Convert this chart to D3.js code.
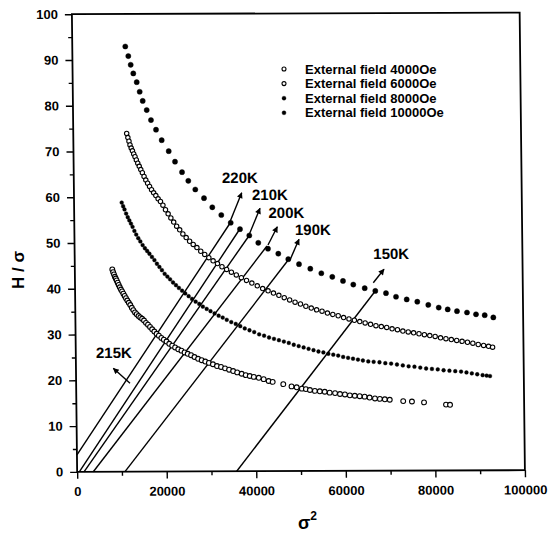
<!DOCTYPE html>
<html><head><meta charset="utf-8">
<script src="https://cdn.jsdelivr.net/npm/d3@7"></script>
<style>body{margin:0;background:#fff}svg{display:block}</style>
</head><body><svg id="c" width="550" height="534"></svg>
<script>
// ---------- data ----------
const xTicks = [0, 20000, 40000, 60000, 80000, 100000];
const xMinor = [10000, 30000, 50000, 70000, 90000];
const yTicks = [0, 10, 20, 30, 40, 50, 60, 70, 80, 90, 100];
const yMinor = [5, 15, 25, 35, 45, 55, 65, 75, 85, 95];
const fieldLabels = ["External field 4000Oe", "External field 6000Oe", "External field 8000Oe", "External field 10000Oe"];

const x4000 = [8370,8550,8740,8930,9120,9320,9540,9760,10000,10250,10500,10780,11060,11350,11650,11970,12300,12630,12960,13330,13710,14100,14500,14900,15320,15750,16200,16650,17120,17600,18100,18600,19150,19700,20300,20900,21550,22200,22900,23600,24300,25000,25750,26500,27300,28100,28900,29700,30600,31500,32400,33300,34200,35100,36000,37000,37900,38800,39700,40800,41900,43000,43900,46260,48100,49250,50400,51300,52200,53300,54400,55500,56600,57800,58900,60000,61100,62200,63300,64400,65500,66700,67800,68900,70000,73000,74950,77650,82550,83450];
const y4000 = [44.2,43.6,43.1,42.6,42.2,41.8,41.3,40.8,40.3,39.8,39.4,38.9,38.4,37.9,37.4,36.9,36.4,35.8,35.3,34.8,34.4,34.0,33.7,33.4,33.0,32.5,32.1,31.6,31.1,30.6,30.1,29.7,29.2,28.8,28.4,27.9,27.5,27.1,26.7,26.4,26.0,25.7,25.4,25.0,24.6,24.3,24.0,23.7,23.4,23.0,22.8,22.5,22.2,21.9,21.6,21.3,21.0,20.8,20.6,20.4,20.1,19.7,19.5,19.0,18.5,18.3,18.0,17.9,17.7,17.5,17.4,17.3,17.1,17.0,16.8,16.7,16.5,16.4,16.3,16.2,16.0,15.8,15.7,15.6,15.5,15.2,15.1,14.9,14.4,14.35];

const x6000 = [11930,12180,12420,12640,12900,13170,13450,13730,14020,14330,14650,14980,15330,15700,16080,16480,16900,17340,17800,18280,18780,19300,19840,20400,20980,21580,22200,22850,23520,24220,24950,25710,26500,27320,28170,29050,29960,30900,31870,32870,33900,34960,36050,37170,38320,39500,40700,41900,43100,44300,45500,46700,47900,49100,50300,51500,52700,53900,55100,56300,57500,58700,59900,61100,62300,63500,64700,65900,67100,68300,69500,70700,71900,73100,74300,75500,76700,77900,79100,80300,81500,82700,83900,85100,86300,87500,88700,89900,91100,92200,93100];
const y6000 = [73.9,73.0,72.2,71.4,70.7,70.1,69.4,68.8,68.1,67.4,66.7,66.0,65.3,64.5,63.7,63.0,62.3,61.6,60.9,60.3,59.6,59.0,58.2,57.2,56.3,55.4,54.5,53.6,52.8,51.9,51.1,50.3,49.6,48.9,48.1,47.4,46.7,46.0,45.4,44.7,44.1,43.5,42.9,42.3,41.7,41.1,40.5,39.9,39.4,38.9,38.4,37.9,37.4,36.9,36.5,36.0,35.6,35.2,34.9,34.5,34.2,33.9,33.5,33.2,32.9,32.6,32.3,32.0,31.7,31.5,31.3,31.0,30.8,30.5,30.3,30.1,29.9,29.7,29.5,29.3,29.0,28.8,28.6,28.4,28.2,28.0,27.8,27.5,27.3,27.1,26.9];

const x8000 = [10640,10950,11250,11600,11950,12300,12650,13000,13400,13800,14250,14700,15200,15700,16200,16700,17250,17800,18350,18900,19450,20050,20650,21250,21900,22550,23200,23900,24600,25350,26100,26900,27700,28500,29350,30200,31100,32000,32900,33800,34800,35800,36800,37800,38850,39900,41000,42100,43200,44300,45400,46500,47600,48700,49800,50900,52000,53100,54200,55300,56400,57500,58600,59700,60800,61900,63000,64100,65300,66500,67800,69100,70400,71700,73000,74300,75600,76900,78200,79500,80800,82100,83400,84700,86000,87200,88400,89600,90800,91700,92450];
const y8000 = [58.8,58.0,57.3,56.4,55.6,54.9,54.2,53.5,52.6,51.8,51.0,50.3,49.5,48.8,48.2,47.6,46.9,46.2,45.4,44.7,44.0,43.2,42.6,42.0,41.3,40.7,40.1,39.5,38.9,38.3,37.7,37.1,36.6,36.0,35.5,35.0,34.5,34.0,33.6,33.1,32.6,32.2,31.7,31.2,30.8,30.4,29.9,29.6,29.2,28.9,28.6,28.3,28.0,27.6,27.3,27.0,26.7,26.4,26.1,25.9,25.6,25.4,25.2,24.9,24.7,24.5,24.3,24.1,23.9,23.8,23.7,23.5,23.4,23.2,23.0,22.8,22.7,22.5,22.3,22.2,22.1,21.9,21.8,21.7,21.6,21.4,21.2,21.0,20.8,20.7,20.6];

const x10000 = [11840,12490,13000,13560,14300,14940,15590,16460,17390,18490,19730,21270,22650,24190,25570,27110,29030,30860,32850,34930,36990,39050,41040,43190,45480,47700,50080,52590,55040,57480,59860,62150,64690,67050,69430,71660,74040,76400,78850,81170,83170,85240,87470,89480,91420,93340];
const y10000 = [92.9,90.8,88.9,87.0,85.1,83.0,81.0,79.0,76.8,74.7,72.4,70.0,67.7,65.4,63.5,61.6,59.7,57.7,56.0,54.3,52.9,51.5,49.9,48.6,47.5,46.3,45.2,44.2,43.2,42.4,41.5,40.7,39.9,39.3,38.8,38.0,37.4,36.9,36.2,35.6,35.2,34.8,34.5,34.1,33.9,33.4];

// isotherm fit lines (Arrott lines)
const isoNames = ["220K", "215K", "210K", "200K", "190K", "150K"];
const isoX0 = [0, 480, 1530, 3607, 10687, 35634];
const isoY0 = [3.7, 0, 0, 0, 0, 0];
const isoX1 = [34886, 36878, 38871, 42978, 47857, 67049];
const isoY1 = [54.36, 52.82, 51.29, 49.2, 46.34, 39.27];
// annotation arrows (from -> to, arrowhead at "to") and label anchors
const arrX0 = [34777, 12030, 38826, 43205, 48078, 66625];
const arrY0 = [54.54, 19.31, 51.24, 49.41, 46.12, 41.09];
const arrX1 = [37465, 8339, 41512, 45327, 50142, 69048];
const arrY1 = [60.86, 22.6, 57.44, 53.4, 50.63, 44.01];
const labX = [33090, 4502, 39746, 43384, 49260, 66685];
const labY = [63.0, 24.86, 59.26, 55.31, 51.58, 46.27];

// ---------- drawing ----------
const svg = d3.select("#c");
const W = 447.75, H = 457.65;
const font = "'Liberation Sans', Arial, sans-serif";
const g = svg.append("g").attr("transform", "matrix(1,-0.003685,0.01147,1,71.9,14.2)");
const x = d3.scaleLinear().domain([0, 100000]).range([0, W]);
const y = d3.scaleLinear().domain([0, 100]).range([H, 0]);

svg.append("defs").append("marker")
  .attr("id", "ah").attr("viewBox", "0 0 10 10").attr("refX", 9).attr("refY", 5)
  .attr("markerWidth", 8).attr("markerHeight", 6).attr("markerUnits", "userSpaceOnUse")
  .attr("orient", "auto")
  .append("path").attr("d", "M0,0 L10,5 L0,10 Z").attr("fill", "#000");

// frame
g.append("rect").attr("x", 0).attr("y", 0).attr("width", W).attr("height", H)
  .attr("fill", "none").attr("stroke", "#000").attr("stroke-width", 1.8);

function styleAxis(sel) {
  sel.select(".domain").remove();
  sel.selectAll("line").attr("stroke", "#000").attr("stroke-width", 1.4);
  sel.selectAll("text").attr("font-family", font).attr("font-size", 13)
    .attr("font-weight", "bold").attr("fill", "#000");
}
g.append("g").attr("transform", `translate(0,${H})`)
  .call(d3.axisBottom(x).tickValues(xTicks).tickFormat(d3.format("d")).tickSize(7).tickPadding(8))
  .call(styleAxis);
g.append("g").attr("transform", `translate(0,${H})`)
  .call(d3.axisBottom(x).tickValues(xMinor).tickFormat("").tickSize(4))
  .call(styleAxis);
g.append("g")
  .call(d3.axisLeft(y).tickValues(yTicks).tickFormat(d3.format("d")).tickSize(7).tickPadding(7))
  .call(styleAxis);
g.append("g")
  .call(d3.axisLeft(y).tickValues(yMinor).tickFormat("").tickSize(4))
  .call(styleAxis);

// isotherm lines
g.append("g").selectAll("line").data(isoNames).join("line")
  .attr("x1", (d, i) => x(isoX0[i])).attr("y1", (d, i) => y(isoY0[i]))
  .attr("x2", (d, i) => x(isoX1[i])).attr("y2", (d, i) => y(isoY1[i]))
  .attr("stroke", "#000").attr("stroke-width", 1.4);

// arrows
g.append("g").selectAll("line").data(isoNames).join("line")
  .attr("x1", (d, i) => x(arrX0[i])).attr("y1", (d, i) => y(arrY0[i]))
  .attr("x2", (d, i) => x(arrX1[i])).attr("y2", (d, i) => y(arrY1[i]))
  .attr("stroke", "#000").attr("stroke-width", 1.4).attr("marker-end", "url(#ah)");

g.append("g").selectAll("text").data(isoNames).join("text")
  .attr("x", (d, i) => x(labX[i])).attr("y", (d, i) => y(labY[i]))
  .attr("font-family", font).attr("font-size", 15).attr("font-weight", "bold")
  .text(d => d);

// series
const series = [
  {xs: x4000, ys: y4000, r: 2.4, open: true},
  {xs: x6000, ys: y6000, r: 2.2, open: true},
  {xs: x8000, ys: y8000, r: 1.9, open: false},
  {xs: x10000, ys: y10000, r: 2.6, open: false}
];
series.forEach(s => {
  g.append("g").selectAll("circle").data(s.xs).join("circle")
    .attr("cx", d => x(d)).attr("cy", (d, i) => y(s.ys[i])).attr("r", s.r)
    .attr("fill", s.open ? "#fff" : "#000").attr("stroke", "#000")
    .attr("stroke-width", s.open ? 1.1 : 0.4);
});

// legend
const leg = svg.append("g");
fieldLabels.forEach((t, i) => {
  const s = series[i];
  const cy = 69 + i * 14.6;
  leg.append("circle").attr("cx", 284).attr("cy", cy).attr("r", 2)
    .attr("fill", s.open ? "#fff" : "#000").attr("stroke", "#000").attr("stroke-width", s.open ? 1.1 : 0.4);
  leg.append("text").attr("x", 305).attr("y", cy + 4.5)
    .attr("font-family", font).attr("font-size", 13).attr("font-weight", "bold").text(t);
});

// axis titles
svg.append("text").attr("transform", "translate(24,270) rotate(-90)")
  .attr("text-anchor", "middle").attr("font-family", font).attr("font-size", 17)
  .attr("font-weight", "bold").text("H / σ");
const xt = svg.append("text").attr("x", 298).attr("y", 529)
  .attr("font-family", font).attr("font-size", 18).attr("font-weight", "bold");
xt.append("tspan").text("σ");
xt.append("tspan").attr("font-size", 12).attr("dy", -9).text("2");
</script></body></html>
